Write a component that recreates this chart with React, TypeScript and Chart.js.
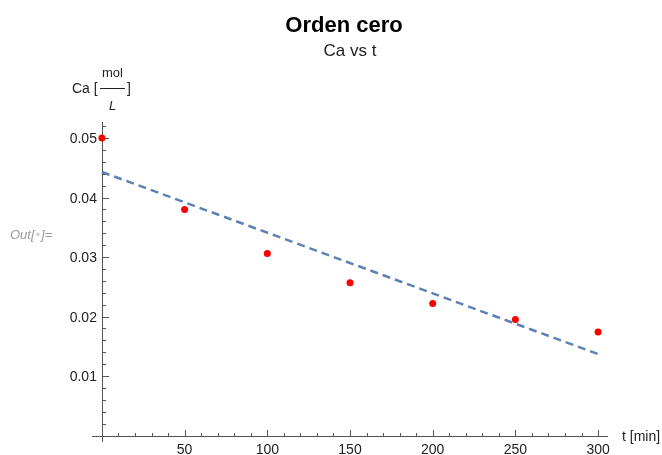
import React, { useEffect, useRef } from "react";
import { Chart, registerables } from "chart.js";

Chart.register(...registerables);

// ---- data ----
const timeMin = [0, 50, 100, 150, 200, 250, 300];
const caValues = [0.05, 0.038, 0.0306, 0.0257, 0.0222, 0.0195, 0.0174];
const fitTime = [0, 300];
const fitCa = [0.0443, 0.0137];
const xTickValues = [50, 100, 150, 200, 250, 300];
const xTickLabels = ["50", "100", "150", "200", "250", "300"];
const yTickValues = [0.01, 0.02, 0.03, 0.04, 0.05];
const yTickLabels = ["0.01", "0.02", "0.03", "0.04", "0.05"];
const xMinorStep = 10;
const yMinorStep = 0.002;

const titleText = "Orden cero";
const subtitleText = "Ca vs t";
const xAxisLabel = "t [min]";

const FONT = '"Liberation Sans", Arial, Helvetica, sans-serif';
const AXIS_COLOR = "#555555";
const TEXT_COLOR = "#222222";

const axesPlugin = {
  id: "mathematicaAxes",
  beforeDatasetsDraw(chart: any) {
    const { ctx } = chart;
    const xs = chart.scales.x;
    const ys = chart.scales.y;
    const x0 = xs.getPixelForValue(0);
    const y0 = ys.getPixelForValue(0);
    ctx.save();
    ctx.strokeStyle = AXIS_COLOR;
    ctx.lineWidth = 1;
    // axis lines
    ctx.beginPath();
    ctx.moveTo(Math.round(xs.left), Math.round(y0) + 0.5);
    ctx.lineTo(Math.round(xs.right), Math.round(y0) + 0.5);
    ctx.moveTo(Math.round(x0) + 0.5, Math.round(ys.top));
    ctx.lineTo(Math.round(x0) + 0.5, Math.round(ys.bottom));
    ctx.stroke();
    // x ticks
    ctx.beginPath();
    for (let v = xMinorStep; v <= xs.max; v += xMinorStep) {
      const px = Math.round(xs.getPixelForValue(v)) + 0.5;
      const major = Math.abs(v % 50) < 1e-9;
      const len = major ? 6.5 : 3.5;
      ctx.moveTo(px, Math.round(y0) + 0.5);
      ctx.lineTo(px, Math.round(y0) + 0.5 - len);
    }
    // y ticks
    for (let i = 1; i * yMinorStep <= ys.max + 1e-12; i++) {
      const v = i * yMinorStep;
      const py = Math.round(ys.getPixelForValue(v)) + 0.5;
      const major = i % 5 === 0;
      const len = major ? 6.5 : 3.5;
      ctx.moveTo(Math.round(x0) + 0.5, py);
      ctx.lineTo(Math.round(x0) + 0.5 + len, py);
    }
    ctx.stroke();

    // tick labels
    ctx.fillStyle = TEXT_COLOR;
    ctx.font = `14px ${FONT}`;
    ctx.textBaseline = "alphabetic";
    ctx.textAlign = "center";
    xTickValues.forEach((v, i) => {
      ctx.fillText(xTickLabels[i], xs.getPixelForValue(v), 454);
    });
    ctx.textAlign = "right";
    yTickValues.forEach((v, i) => {
      ctx.fillText(yTickLabels[i], x0 - 5, ys.getPixelForValue(v) + 5);
    });

    // axis labels
    ctx.textAlign = "left";
    ctx.fillText(xAxisLabel, xs.right + 14, y0 + 5);

    // y label: Ca [ mol / L ]
    ctx.font = `14px ${FONT}`;
    ctx.fillText("Ca [", 72, 93);
    ctx.fillText("]", 127, 93);
    ctx.beginPath();
    ctx.strokeStyle = TEXT_COLOR;
    ctx.moveTo(100, 88.5);
    ctx.lineTo(125, 88.5);
    ctx.stroke();
    ctx.textAlign = "center";
    ctx.font = `13px ${FONT}`;
    ctx.fillText("mol", 112.5, 77);
    ctx.font = `italic 13px ${FONT}`;
    ctx.fillText("L", 112.5, 110);

    // title & subtitle
    ctx.font = `bold 22px ${FONT}`;
    ctx.fillStyle = "#000000";
    ctx.fillText(titleText, 344, 32);
    ctx.font = `17px ${FONT}`;
    ctx.fillStyle = TEXT_COLOR;
    ctx.fillText(subtitleText, 350, 56);

    // Out[•]= label
    ctx.textAlign = "left";
    ctx.font = `italic 13px ${FONT}`;
    ctx.fillStyle = "#9a9a9a";
    ctx.fillText("Out[", 10, 239);
    const w1 = ctx.measureText("Out[").width;
    ctx.fillStyle = "#d0d0d0";
    ctx.fillText("•", 10 + w1 + 1, 239);
    const w2 = ctx.measureText("•").width;
    ctx.fillStyle = "#9a9a9a";
    ctx.fillText("]=", 10 + w1 + w2 + 2, 239);
    ctx.restore();
  },
};

export default function App() {
  const ref = useRef<HTMLCanvasElement | null>(null);
  useEffect(() => {
    if (!ref.current) return;
    const chart = new Chart(ref.current, {
      type: "scatter",
      data: {
        datasets: [
          {
            label: "fit",
            data: fitTime.map((t, i) => ({ x: t, y: fitCa[i] })),
            showLine: true,
            borderColor: "#5e81b5",
            borderWidth: 2.5,
            borderDash: [8, 5],
            pointRadius: 0,
            fill: false,
          },
          {
            label: "Ca",
            data: timeMin.map((t, i) => ({ x: t, y: caValues[i] })),
            backgroundColor: "#ff0000",
            borderColor: "#ff0000",
            pointRadius: 3.5,
            borderWidth: 0,
          },
        ],
      },
      options: {
        responsive: false,
        animation: false,
        layout: { padding: { left: 92, right: 54, top: 122, bottom: 13.5 } },
        plugins: {
          legend: { display: false },
          tooltip: { enabled: false },
          title: { display: false },
        },
        scales: {
          x: { type: "linear", min: -6, max: 306, display: false },
          y: { type: "linear", min: -0.001, max: 0.0527, display: false },
        },
      },
      plugins: [axesPlugin],
    });
    return () => chart.destroy();
  }, []);
  return (
    <div style={{ position: "absolute", left: 0, top: 0, width: 662, height: 455, background: "#fff" }}>
      <canvas ref={ref} width={662} height={455} style={{ width: 662, height: 455 }} />
    </div>
  );
}
